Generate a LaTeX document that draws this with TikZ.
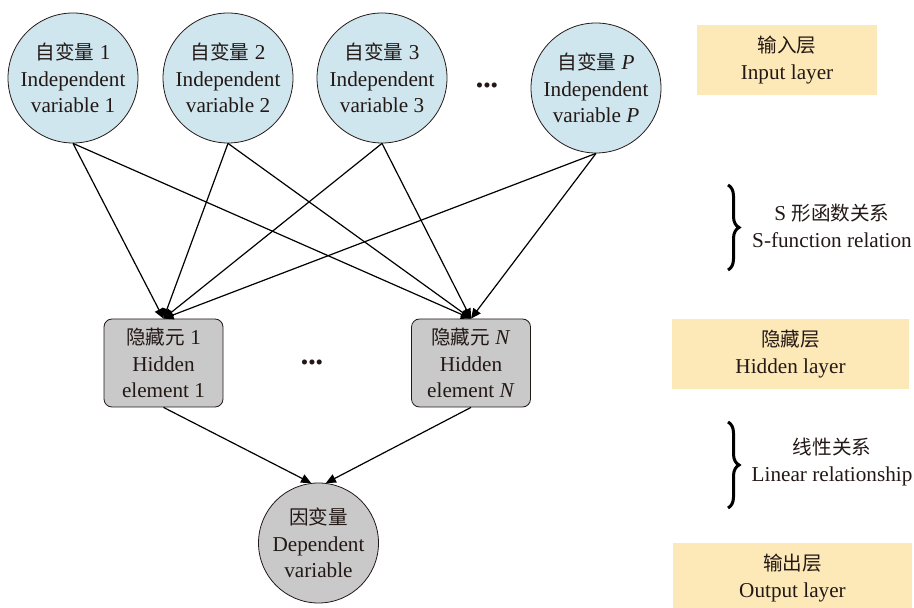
\documentclass[tikz,border=0pt]{standalone}
\usepackage{fontspec}
\setmainfont{Liberation Serif}
\newfontfamily\cjk{Noto Sans CJK SC}
\usetikzlibrary{arrows.meta,positioning,decorations.pathreplacing}
\definecolor{inputfill}{HTML}{CFE6EE}
\definecolor{hiddenfill}{HTML}{C9C9C9}
\definecolor{layerfill}{HTML}{FDE9B8}
\definecolor{inkline}{HTML}{231815}
\newcommand{\zh}[1]{{\cjk\fontsize{9.8}{13.2}\selectfont #1}}

\begin{document}
\begin{tikzpicture}[x=0.5pt,y=-0.5pt,font=\fontsize{10.6}{13.3}\selectfont,text=inkline,
 >={Triangle[length=5pt,width=4.5pt]},
 invar/.style={circle,draw=inkline,fill=inputfill,minimum size=65pt,inner sep=0pt,align=center},
 hidbox/.style={draw=inkline,fill=hiddenfill,rounded corners=4pt,minimum width=59.5pt,minimum height=44pt,inner sep=0pt,align=center},
 layerbox/.style={fill=layerfill,minimum height=35pt,inner sep=0pt,align=center},
 edge/.style={->,draw=black,line width=0.6pt},
 bracket/.style={decorate,decoration={brace,amplitude=5.5pt},line width=1.5pt}]
\useasboundingbox (0,0) rectangle (914,608);
% input layer
\node[invar] (in1) at (73,78) {\zh{自变量} 1\\Independent\\variable 1};
\node[invar] (in2) at (228,78) {\zh{自变量} 2\\Independent\\variable 2};
\node[invar] (in3) at (382,78) {\zh{自变量} 3\\Independent\\variable 3};
\node (dots1) at (487,88) {\textbullet\textbullet\textbullet};
\node[invar] (inP) at (596,88) {\zh{自变量} \textit{P}\\Independent\\variable \textit{P}};
% hidden layer
\node[hidbox] (hid1) at (163.5,363) {\zh{隐藏元} 1\\Hidden\\element 1};
\node (dots2) at (312,365) {\textbullet\textbullet\textbullet};
\node[hidbox] (hidN) at (471,363) {\zh{隐藏元} \textit{N}\\Hidden\\element \textit{N}};
% output layer
\node[circle,draw=inkline,fill=hiddenfill,minimum size=60pt,inner sep=0pt,align=center] (dep) at (318.5,543) {\zh{因变量}\\Dependent\\variable};
\foreach \s in {in1,in2,in3,inP} {
  \draw[edge] (\s.south) -- (hid1.north);
  \draw[edge] (\s.south) -- (hidN.north);
}
\draw[edge] (hid1.south) -- (dep.97);
\draw[edge] (hidN.south) -- (dep.83);
% legend column
\node[layerbox,minimum width=90pt] (inlayer) at (787,60) {\zh{输入层}\\Input layer};
\node[layerbox,minimum width=118.5pt] (hidlayer) at (790.5,354) {\zh{隐藏层}\\Hidden layer};
\node[layerbox,minimum width=119.5pt] (outlayer) at (792.5,578) {\zh{输出层}\\Output layer};
\coordinate (b1t) at (728,185);
\coordinate (b1b) at (728,270);
\coordinate (b2t) at (728,422);
\coordinate (b2b) at (728,508);
\draw[bracket] (b1t) -- (b1b);
\draw[bracket] (b2t) -- (b2b);
\node[align=center] (rel1) at (832,226) {S \zh{形函数关系}\\S-function relation};
\node[align=center] (rel2) at (832,462) {\zh{线性关系}\\Linear relationship};
\end{tikzpicture}
\end{document}
